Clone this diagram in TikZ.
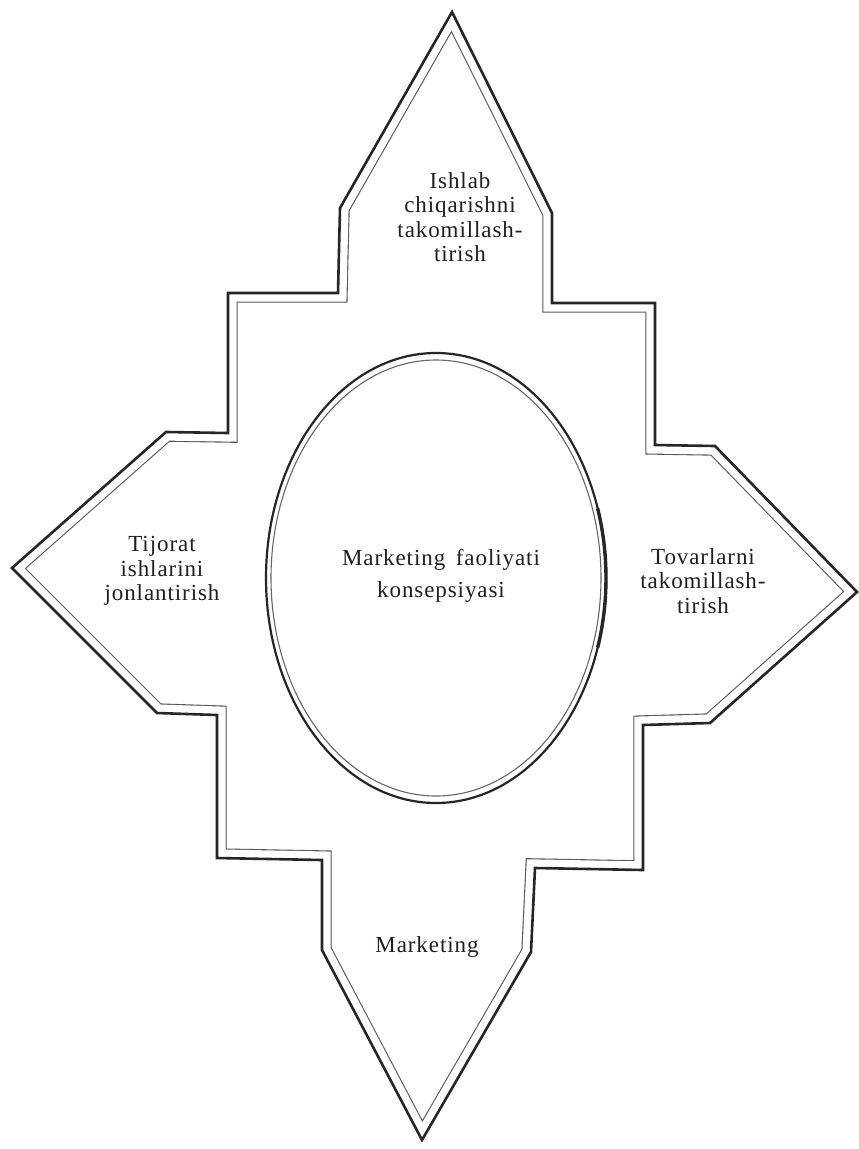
\documentclass[tikz,border=0pt]{standalone}
\usepackage{fontspec}
\setmainfont{Liberation Serif}
\begin{document}
\begin{tikzpicture}[x=1pt,y=-1pt]
\useasboundingbox[fill=white] (0,0) rectangle (859,1149);
\tikzset{
  lbl/.style={align=center, inner sep=0pt, text=black!88, font=\fontsize{23}{24.5}\selectfont\addfontfeatures{LetterSpace=4}},
  outerline/.style={line width=2.6pt, draw=black!85, line join=miter},
  ringthick/.style={line width=2.2pt, draw=black!85},
  ringthin/.style={line width=1.1pt, draw=black!60}
}
% star outline
\path[save path=\starP] (452,12) -- (552,213) -- (552,303) -- (655,303) -- (655,445) -- (715,446) -- (857,592) -- (710,723) -- (643,725) -- (643,870) -- (535,868) -- (531,952) -- (422,1140) -- (322,950) -- (322,860) -- (217,858) -- (217,715) -- (157,713) -- (12,568) -- (166,432) -- (228,433) -- (228,293) -- (338,293) -- (340,208) -- cycle;
\begin{scope}
  \clip[use path=\starP];
  \path[use path=\starP, draw=black!65, line width=19.4pt, line join=miter];
  \path[use path=\starP, draw=white, line width=17.2pt, line join=miter];
\end{scope}
\path[use path=\starP, outerline];
% central ellipse
\draw[ringthick] (436,578) ellipse [x radius=170, y radius=225];
\draw[ringthin] (436,578) ellipse [x radius=165, y radius=218];
\draw[line width=3.4pt, draw=black!85] ([shift={(436,578)}]-18:170 and 225) arc[start angle=-18, end angle=18, x radius=170, y radius=225];
% labels
\node[lbl] (topl) at (460,217) {Ishlab\\chiqarishni\\takomillash-\\tirish};
\node[lbl] (leftl) at (162,571) {Tijorat\\ishlarini\\jonlantirish};
\node[lbl] (rightl) at (703,581) {Tovarlarni\\takomillash-\\tirish};
\node[lbl, anchor=base] (bottoml) at (427,952) {Marketing};
\node[lbl, font=\fontsize{23}{32}\selectfont\addfontfeatures{LetterSpace=4}] (centerl) at (441,576) {Marketing\hspace{4pt} faoliyati\\konsepsiyasi};
\end{tikzpicture}
\end{document}
